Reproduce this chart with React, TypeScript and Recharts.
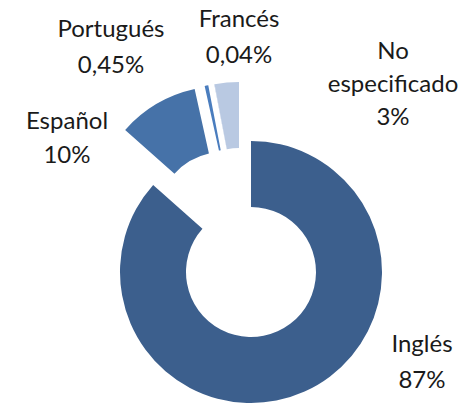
import React from 'react';
import { PieChart, Pie, Cell, Sector } from 'recharts';

const categories = ['Inglés', 'Español', 'Portugués', 'Francés', 'No especificado'];
const values = [87, 10, 0.45, 0.04, 3];
const valueLabels = ['87%', '10%', '0,45%', '0,04%', '3%'];
const nameLines = [['Inglés'], ['Español'], ['Portugués'], ['Francés'], ['No', 'especificado']];

const data = categories.map((name, i) => ({ name, value: values[i] }));

// styles
const COLORS = ['#3C5F8D', '#4672A8', '#4A7DBE', '#A9BCDD', '#B9C9E2'];
const EXPLODE = [
  { dx: 0, dy: 0 },
  { dx: -28, dy: -55 },
  { dx: -18, dy: -58 },
  { dx: -12, dy: -59 },
  { dx: -12, dy: -59 },
];
const LABEL_POS = [
  { x: 422, y: 352, lh: 36 },
  { x: 67, y: 129, lh: 34 },
  { x: 111, y: 37, lh: 36 },
  { x: 239, y: 27, lh: 36 },
  { x: 393, y: 59, lh: 33 },
];

const idxOf = (props: any) => {
  if (typeof props.index === 'number') return props.index;
  const n = props.name ?? props.payload?.name;
  return categories.indexOf(n);
};

const renderShape = (props: any) => {
  const i = idxOf(props);
  const off = EXPLODE[i] || { dx: 0, dy: 0 };
  return (
    <Sector
      cx={props.cx + off.dx}
      cy={props.cy + off.dy}
      innerRadius={props.innerRadius}
      outerRadius={props.outerRadius}
      startAngle={props.startAngle}
      endAngle={props.endAngle}
      fill={props.fill}
      stroke="none"
    />
  );
};

const renderLabel = (props: any) => {
  const i = idxOf(props);
  const p = LABEL_POS[i];
  if (!p) return null;
  const lines = [...nameLines[i], valueLabels[i]];
  return (
    <text
      key={`lbl-${i}`}
      x={p.x}
      y={p.y}
      textAnchor="middle"
      fill="#1a1a1a"
      fontFamily="Lato, 'Open Sans', sans-serif"
      fontSize={24}
    >
      {lines.map((t, k) => (
        <tspan key={k} x={p.x} dy={k === 0 ? 0 : p.lh}>
          {t}
        </tspan>
      ))}
    </text>
  );
};

export default function App() {
  return (
    <div style={{ position: 'absolute', left: 0, top: 0, width: 461, height: 404, background: '#fff' }}>
      <PieChart width={461} height={404} margin={{ top: 0, right: 0, bottom: 0, left: 0 }}>
        <Pie
          data={data}
          dataKey="value"
          nameKey="name"
          cx={251}
          cy={272}
          innerRadius={65}
          outerRadius={131}
          startAngle={90}
          endAngle={-270}
          stroke="none"
          isAnimationActive={false}
          shape={renderShape}
          label={renderLabel}
          labelLine={false}
        >
          {data.map((d, i) => (
            <Cell key={d.name} fill={COLORS[i]} />
          ))}
        </Pie>
      </PieChart>
    </div>
  );
}
